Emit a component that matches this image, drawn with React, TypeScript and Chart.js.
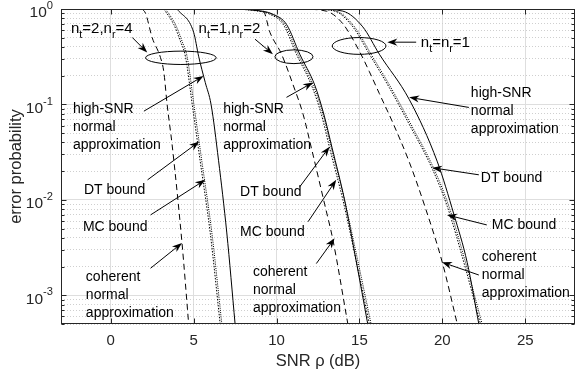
import React, { useEffect, useRef } from "react";
import { Chart, registerables } from "chart.js";

Chart.register(...registerables);

// ---------- axes ----------
const xMin = -3;
const xMax = 28;
const yMin = 5e-4;
const yMax = 1;
const xTickValues = [0, 5, 10, 15, 20, 25];
const yMajorExponents = [0, -1, -2, -3];
const xTitle = "SNR \u03c1 (dB)";
const yTitle = "error probability";

// ---------- data: nt=2, nr=4 ----------
const g1CoherentSnr = [1.9, 2.1, 2.5, 3.0, 3.2, 3.4, 3.7, 4.3, 4.7];
const g1CoherentP = [1.0, 0.9, 0.5, 0.31, 0.22, 0.1, 0.038, 0.0035, 0.0005];
const g1DtSnr = [3.2, 3.8, 4.2, 4.5, 4.95, 5.4, 6.0, 6.6];
const g1DtP = [1.0, 0.69, 0.46, 0.32, 0.09, 0.025, 0.0045, 0.0005];
const g1McSnr = [3.3, 3.9, 4.3, 4.6, 5.05, 5.5, 6.1, 6.7];
const g1McP = [1.0, 0.69, 0.46, 0.32, 0.09, 0.025, 0.0045, 0.0005];
const g1HighSnr = [4.0, 5.0, 5.3, 5.7, 6.05, 6.5, 7.0, 7.5];
const g1HighP = [1.0, 0.57, 0.32, 0.17, 0.1, 0.026, 0.0045, 0.0005];

// ---------- data: nt=1, nr=2 ----------
const g2CoherentSnr = [8.0, 9.2, 9.6, 10.3, 11.0, 11.6, 12.1, 12.9, 13.4, 14.3];
const g2CoherentP = [1.0, 0.95, 0.57, 0.336, 0.16, 0.079, 0.035, 0.009, 0.0038, 0.0005];
const g2DtSnr = [7.0, 8.5, 9.6, 10.4, 11.2, 12.1, 12.7, 13.2, 14.0, 14.8, 15.6];
const g2DtP = [1.0, 0.97, 0.88, 0.69, 0.336, 0.16, 0.079, 0.035, 0.01, 0.0023, 0.0005];
const g2McSnr = [7.1, 8.6, 9.7, 10.5, 11.3, 12.2, 12.8, 13.3, 14.1, 14.9, 15.7];
const g2McP = [1.0, 0.97, 0.88, 0.69, 0.336, 0.16, 0.079, 0.035, 0.01, 0.0023, 0.0005];
const g2HighSnr = [7.2, 8.7, 9.8, 10.6, 11.4, 12.3, 12.85, 13.35, 14.1, 14.8, 15.5];
const g2HighP = [1.0, 0.97, 0.88, 0.69, 0.336, 0.16, 0.079, 0.035, 0.01, 0.0023, 0.0005];

// ---------- data: nt=nr=1 ----------
const g3CoherentSnr = [11.5, 13.0, 14.0, 15.0, 15.6, 16.2, 17.0, 18.0, 19.0, 20.0, 20.9];
const g3CoherentP = [1.0, 0.95, 0.7, 0.36, 0.22, 0.13, 0.065, 0.025, 0.008, 0.0022, 0.0005];
const g3DtSnr = [12.0, 13.5, 14.6, 15.6, 16.8, 18.0, 19.4, 20.3, 21.3, 22.3];
const g3DtP = [1.0, 0.95, 0.65, 0.336, 0.15, 0.062, 0.021, 0.0085, 0.0022, 0.0005];
const g3McSnr = [12.1, 13.6, 14.7, 15.7, 16.9, 18.1, 19.5, 20.4, 21.4, 22.4];
const g3McP = [1.0, 0.95, 0.65, 0.336, 0.15, 0.062, 0.021, 0.0085, 0.0022, 0.0005];
const g3HighSnr = [12.5, 14.0, 15.2, 16.2, 18.0, 19.7, 20.7, 21.5, 22.2];
const g3HighP = [1.0, 0.95, 0.65, 0.336, 0.113, 0.025, 0.007, 0.0022, 0.0005];

type Kind = "coherent" | "dt" | "mc" | "high";
const curves: { snr: number[]; p: number[]; kind: Kind }[] = [
  { snr: g1CoherentSnr, p: g1CoherentP, kind: "coherent" },
  { snr: g1DtSnr, p: g1DtP, kind: "dt" },
  { snr: g1McSnr, p: g1McP, kind: "mc" },
  { snr: g1HighSnr, p: g1HighP, kind: "high" },
  { snr: g2CoherentSnr, p: g2CoherentP, kind: "coherent" },
  { snr: g2DtSnr, p: g2DtP, kind: "dt" },
  { snr: g2McSnr, p: g2McP, kind: "mc" },
  { snr: g2HighSnr, p: g2HighP, kind: "high" },
  { snr: g3CoherentSnr, p: g3CoherentP, kind: "coherent" },
  { snr: g3DtSnr, p: g3DtP, kind: "dt" },
  { snr: g3McSnr, p: g3McP, kind: "mc" },
  { snr: g3HighSnr, p: g3HighP, kind: "high" },
];

const dashFor: Record<Kind, number[]> = {
  coherent: [6, 4],
  dt: [1.5, 1.5],
  mc: [1, 1.2],
  high: [],
};

// ---------- annotations (data coordinates: snr, p) ----------
type Seg = { t: string; sub?: boolean; sup?: boolean; italic?: boolean };
const groupLabels: { segs: Seg[]; snr: number; p: number }[] = [
  { segs: [{ t: "n" }, { t: "t", sub: true }, { t: "=2,n" }, { t: "r", sub: true }, { t: "=4" }], snr: -2.4, p: 0.616 },
  { segs: [{ t: "n" }, { t: "t", sub: true }, { t: "=1,n" }, { t: "r", sub: true }, { t: "=2" }], snr: 5.3, p: 0.616 },
  { segs: [{ t: "n" }, { t: "t", sub: true }, { t: "=n" }, { t: "r", sub: true }, { t: "=1" }], snr: 18.7, p: 0.438 },
];

const textBlocks: { lines: string[]; snr: number; p: number }[] = [
  { lines: ["high-SNR", "normal", "approximation"], snr: -2.28, p: 0.0886 },
  { lines: ["DT bound"], snr: -1.62, p: 0.0127 },
  { lines: ["MC bound"], snr: -1.68, p: 0.0052 },
  { lines: ["coherent", "normal", "approximation"], snr: -1.5, p: 0.00155 },
  { lines: ["high-SNR", "normal", "approximation"], snr: 6.78, p: 0.0886 },
  { lines: ["DT bound"], snr: 7.8, p: 0.0121 },
  { lines: ["MC bound"], snr: 7.8, p: 0.0046 },
  { lines: ["coherent", "normal", "approximation"], snr: 8.58, p: 0.00175 },
  { lines: ["high-SNR", "normal", "approximation"], snr: 21.72, p: 0.1306 },
  { lines: ["DT bound"], snr: 22.32, p: 0.017 },
  { lines: ["MC bound"], snr: 22.98, p: 0.00546 },
  { lines: ["coherent", "normal", "approximation"], snr: 22.38, p: 0.0025 },
];

// arrows: [fromSnr, fromP, toSnr, toP]
const arrows: number[][] = [
  [1.3, 0.503, 2.2, 0.35],
  [2.0, 0.085, 5.6, 0.199],
  [2.22, 0.0162, 5.34, 0.0408],
  [2.4, 0.00695, 5.7, 0.0162],
  [2.4, 0.00192, 4.3, 0.00353],
  [8.7, 0.483, 9.78, 0.336],
  [10.6, 0.1186, 12.2, 0.17],
  [11.4, 0.0137, 13.2, 0.0361],
  [11.9, 0.0059, 13.6, 0.0162],
  [12.4, 0.00215, 13.5, 0.00395],
  [18.42, 0.449, 16.68, 0.449],
  [21.6, 0.093, 18.0, 0.1186],
  [22.2, 0.0183, 19.38, 0.0217],
  [22.68, 0.00546, 20.28, 0.00695],
  [22.2, 0.00163, 19.98, 0.00222],
];

// ellipses: [centerSnr, centerP, halfWidthDb, halfHeightDecades]
const ellipses: number[][] = [
  [4.23, 0.308, 2.13, 0.07],
  [11.05, 0.316, 1.15, 0.072],
  [14.98, 0.41, 1.62, 0.088],
];

const FONT = '"Liberation Sans", Arial, Helvetica, sans-serif';

const yGridValues: number[] = [];
for (let e = -4; e <= 0; e++) {
  for (let m = 1; m <= 9; m++) {
    const v = m * Math.pow(10, e);
    if (v >= yMin * 0.999 && v <= yMax * 1.001) yGridValues.push(v);
  }
}
const isMajor = (v: number | undefined) => {
  if (v === undefined) return false;
  const l = Math.log10(v);
  return Math.abs(l - Math.round(l)) < 1e-9;
};

function drawRich(ctx: CanvasRenderingContext2D, segs: Seg[], x: number, y: number, size: number, align: "left" | "right" | "center") {
  const parts = segs.map((s) => {
    const fs = s.sub || s.sup ? size * 0.72 : size;
    const font = `${s.italic ? "italic " : ""}${fs}px ${FONT}`;
    ctx.font = font;
    return { ...s, font, w: ctx.measureText(s.t).width };
  });
  const total = parts.reduce((a, p) => a + p.w, 0);
  let cx = align === "right" ? x - total : align === "center" ? x - total / 2 : x;
  ctx.textAlign = "left";
  ctx.textBaseline = "middle";
  for (const p of parts) {
    ctx.font = p.font;
    const dy = p.sub ? size * 0.38 : p.sup ? -size * 0.45 : 0;
    ctx.fillText(p.t, cx, y + dy);
    cx += p.w;
  }
}

const overlayPlugin = {
  id: "overlay",
  afterDraw(chart: any) {
    const { ctx, chartArea: a, scales } = chart;
    const xs = scales.x;
    const ys = scales.y;
    const px = (v: number) => xs.getPixelForValue(v);
    const py = (v: number) => ys.getPixelForValue(v);
    ctx.save();
    ctx.fillStyle = "#000";
    ctx.strokeStyle = "#000";
    ctx.setLineDash([]);

    // ellipses
    ctx.lineWidth = 1;
    for (const [cs, cp, hw, hh] of ellipses) {
      const cx = px(cs);
      const cy = py(cp);
      const rx = px(cs + hw) - cx;
      const ry = py(cp * Math.pow(10, -hh)) - cy;
      ctx.beginPath();
      ctx.ellipse(cx, cy, rx, ry, 0, 0, Math.PI * 2);
      ctx.stroke();
    }

    // arrows
    for (const [fs, fp, ts, tp] of arrows) {
      const x0 = px(fs), y0 = py(fp), x1 = px(ts), y1 = py(tp);
      const dx = x1 - x0, dy = y1 - y0;
      const len = Math.hypot(dx, dy);
      const ux = dx / len, uy = dy / len;
      const nx = -uy, ny = ux;
      const L = 10, W = 3.6;
      const bx = x1 - ux * L * 0.7, by = y1 - uy * L * 0.7;
      ctx.beginPath();
      ctx.moveTo(x0, y0);
      ctx.lineTo(bx, by);
      ctx.stroke();
      ctx.beginPath();
      ctx.moveTo(x1, y1);
      ctx.lineTo(x1 - ux * L + nx * W, y1 - uy * L + ny * W);
      ctx.lineTo(bx, by);
      ctx.lineTo(x1 - ux * L - nx * W, y1 - uy * L - ny * W);
      ctx.closePath();
      ctx.fill();
    }

    // text blocks
    ctx.textAlign = "left";
    ctx.textBaseline = "middle";
    ctx.font = `14px ${FONT}`;
    for (const b of textBlocks) {
      const x = px(b.snr);
      const y = py(b.p);
      b.lines.forEach((ln, i) => ctx.fillText(ln, x, y + i * 18));
    }
    for (const g of groupLabels) {
      drawRich(ctx, g.segs, px(g.snr), py(g.p), 15, "left");
    }

    // box
    ctx.strokeStyle = "#262626";
    ctx.lineWidth = 1;
    const L0 = Math.round(a.left) + 0.5;
    const R0 = Math.round(a.right) - 0.5;
    const T0 = Math.round(a.top) + 0.5;
    const B0 = Math.round(a.bottom) - 0.5;
    ctx.strokeRect(L0, T0, R0 - L0, B0 - T0);

    // tick marks (inward)
    ctx.beginPath();
    for (const v of xTickValues) {
      const x = Math.round(px(v)) + 0.5;
      ctx.moveTo(x, B0);
      ctx.lineTo(x, B0 - 5);
      ctx.moveTo(x, T0);
      ctx.lineTo(x, T0 + 5);
    }
    for (const v of yGridValues) {
      const y = Math.round(py(v)) + 0.5;
      const l = isMajor(v) ? 5 : 3;
      ctx.moveTo(L0, y);
      ctx.lineTo(L0 + l, y);
      ctx.moveTo(R0, y);
      ctx.lineTo(R0 - l, y);
    }
    ctx.stroke();

    // tick labels
    ctx.fillStyle = "#262626";
    ctx.font = `15px ${FONT}`;
    ctx.textAlign = "center";
    ctx.textBaseline = "middle";
    for (const v of xTickValues) {
      ctx.fillText(String(v), px(v), a.bottom + 17);
    }
    for (const e of yMajorExponents) {
      const y = py(Math.pow(10, e)) + 4;
      drawRich(ctx, [{ t: "10" }, { t: String(e), sup: true }], a.left - 8, y, 15.5, "right");
    }

    // axis titles
    ctx.fillStyle = "#262626";
    drawRich(ctx, [{ t: "SNR " }, { t: "\u03c1" }, { t: " (dB)" }], (a.left + a.right) / 2, a.bottom + 37, 16.5, "center");
    ctx.save();
    ctx.translate(16, (a.top + a.bottom) / 2);
    ctx.rotate(-Math.PI / 2);
    ctx.font = `16.5px ${FONT}`;
    ctx.textAlign = "center";
    ctx.textBaseline = "middle";
    ctx.fillText(yTitle, 0, 0);
    ctx.restore();

    ctx.restore();
  },
};

export default function App() {
  const canvasRef = useRef<HTMLCanvasElement | null>(null);

  useEffect(() => {
    document.body.style.margin = "0";
    const canvas = canvasRef.current;
    if (!canvas) return;
    const chart = new Chart(canvas, {
      type: "line",
      data: {
        datasets: curves.map((c) => ({
          data: c.snr.map((x, i) => ({ x, y: c.p[i] })),
          borderColor: "#000",
          borderWidth: 1,
          borderDash: dashFor[c.kind],
          pointRadius: 0,
          fill: false,
          cubicInterpolationMode: "monotone" as const,
        })),
      },
      options: {
        responsive: false,
        animation: false,
        events: [],
        layout: { padding: { top: 9, right: 1, left: 0, bottom: 0 } },
        plugins: {
          legend: { display: false },
          tooltip: { enabled: false },
          title: { display: false },
        },
        scales: {
          x: {
            type: "linear",
            min: xMin,
            max: xMax,
            title: { display: false, text: xTitle },
            ticks: { display: false },
            afterBuildTicks: (s: any) => {
              s.ticks = xTickValues.map((v) => ({ value: v }));
            },
            afterFit: (s: any) => {
              s.height = 50;
            },
            grid: { color: "#dedede", lineWidth: 1, drawTicks: false },
            border: { display: false },
          },
          y: {
            type: "logarithmic",
            min: yMin,
            max: yMax,
            title: { display: false, text: yTitle },
            ticks: { display: false },
            afterBuildTicks: (s: any) => {
              s.ticks = yGridValues.map((v) => ({ value: v }));
            },
            afterFit: (s: any) => {
              s.width = 61;
            },
            grid: {
              color: (ctx: any) => (isMajor(ctx.tick?.value) ? "#dedede" : "#cfcfcf"),
              lineWidth: 1,
              drawTicks: false,
            },
            border: {
              display: false,
              dash: (ctx: any) => (isMajor(ctx.tick?.value) ? [] : [1, 2]),
            },
          },
        },
      } as any,
      plugins: [overlayPlugin],
    });
    return () => chart.destroy();
  }, []);

  return (
    <div style={{ width: 576, height: 374, background: "#fff" }}>
      <canvas ref={canvasRef} width={576} height={374} style={{ display: "block" }} />
    </div>
  );
}
